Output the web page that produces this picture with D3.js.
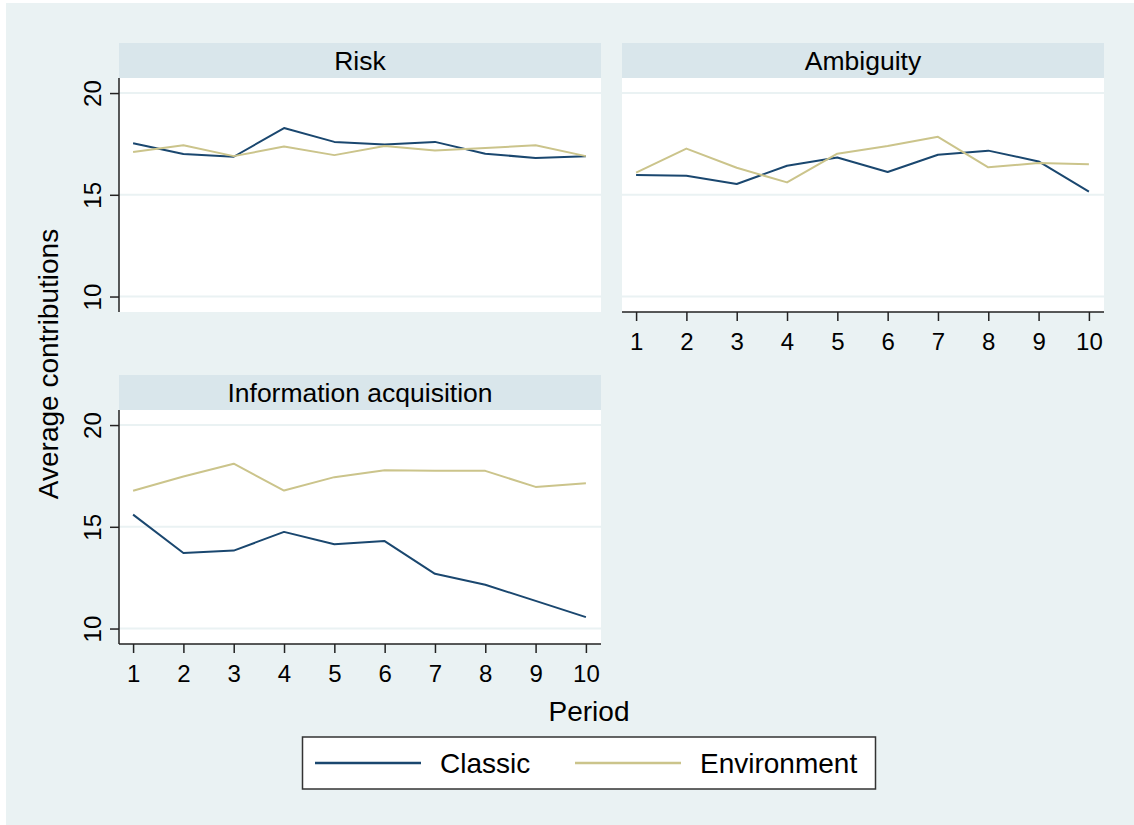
<!DOCTYPE html>
<html>
<head>
<meta charset="utf-8">
<script src="https://cdn.jsdelivr.net/npm/d3@7"></script>
<style>
html,body{margin:0;padding:0;background:#fff;}
svg{display:block;font-family:"Liberation Sans",Arial,sans-serif;}
</style>
</head>
<body>
<svg id="chart" width="1134" height="825"></svg>
<script>
// ---- data ----
const periods = [1,2,3,4,5,6,7,8,9,10];
const xTicks = [1,2,3,4,5,6,7,8,9,10];
const yTicks = [10,15,20];
const panelTitles = ["Risk","Ambiguity","Information acquisition"];
const seriesNames = ["Classic","Environment"];
const riskClassic = [17.53,17.0,16.87,18.28,17.6,17.47,17.6,17.02,16.81,16.9];
const riskEnv     = [17.1,17.43,16.9,17.37,16.95,17.4,17.18,17.3,17.43,16.9];
const ambClassic  = [15.97,15.94,15.53,16.43,16.83,16.12,16.97,17.17,16.64,15.16];
const ambEnv      = [16.09,17.27,16.33,15.61,17.02,17.4,17.85,16.35,16.56,16.5];
const infoClassic = [15.6,13.71,13.83,14.75,14.14,14.3,12.69,12.15,11.36,10.56];
const infoEnv     = [16.77,17.47,18.1,16.78,17.44,17.78,17.75,17.75,16.96,17.14];
const yAxisTitle = "Average contributions";
const xAxisTitle = "Period";

const colors = ["#1a476f","#cbc48b"];
const BG = "#eaf2f3", STRIP = "#d9e6eb", GRID = "#eaf2f3";

const svg = d3.select("#chart");
svg.append("rect").attr("x",6).attr("y",3).attr("width",1128).attr("height",822).attr("fill",BG);

const panels = [
  {title:panelTitles[0], data:[riskClassic,riskEnv], x0:119, x1:601, top:43, yAxis:true,  xAxis:false},
  {title:panelTitles[1], data:[ambClassic,ambEnv],   x0:622, x1:1104, top:43, yAxis:false, xAxis:true},
  {title:panelTitles[2], data:[infoClassic,infoEnv], x0:119, x1:601, top:375, yAxis:true, xAxis:true}
];
const stripH = 35, plotH = 234;

panels.forEach(p => {
  const g = svg.append("g");
  const pTop = p.top + stripH, pBot = pTop + plotH;
  g.append("rect").attr("x",p.x0).attr("y",p.top).attr("width",p.x1-p.x0).attr("height",stripH).attr("fill",STRIP);
  g.append("text").attr("x",(p.x0+p.x1)/2).attr("y",p.top+stripH/2+9)
    .attr("text-anchor","middle").attr("font-size",26.5).attr("fill","#000").text(p.title);
  g.append("rect").attr("x",p.x0).attr("y",pTop).attr("width",p.x1-p.x0).attr("height",plotH).attr("fill","#fff");
  const x = d3.scaleLinear().domain([0.72,10.3]).range([p.x0,p.x1]);
  const y = d3.scaleLinear().domain([9.24,20.74]).range([pBot,pTop]);
  g.selectAll(".grid").data(yTicks).enter().append("line")
    .attr("x1",p.x0).attr("x2",p.x1).attr("y1",d=>y(d)).attr("y2",d=>y(d))
    .attr("stroke",GRID).attr("stroke-width",2);
  p.data.forEach((vals,i)=>{
    const line = d3.line().x((d,j)=>x(periods[j])).y(d=>y(d));
    g.append("path").datum(vals).attr("d",line).attr("fill","none")
      .attr("stroke",colors[i]).attr("stroke-width",2).attr("stroke-linejoin","round");
  });
  if (p.yAxis) {
    const ya = g.append("g").attr("transform",`translate(${p.x0},0)`)
      .call(d3.axisLeft(y).tickValues(yTicks).tickSize(9).tickFormat(d3.format("d")));
    ya.select(".domain").attr("d",`M0,${pTop}V${pBot}`).attr("stroke","#222").attr("stroke-width",1.5);
    ya.selectAll(".tick line").attr("stroke","#222").attr("stroke-width",1.5);
    ya.selectAll(".tick text").attr("font-size",24).attr("fill","#000")
      .attr("font-family","Liberation Sans, Arial, sans-serif")
      .attr("x",0).attr("dy",0).attr("y",0)
      .attr("transform","translate(-18,0) rotate(-90)")
      .attr("text-anchor","middle");
  }
  if (p.xAxis) {
    const xa = g.append("g").attr("transform",`translate(0,${pBot})`)
      .call(d3.axisBottom(x).tickValues(xTicks).tickSize(9).tickFormat(d3.format("d")));
    xa.select(".domain").attr("d",`M${p.x0},0H${p.x1}`).attr("stroke","#222").attr("stroke-width",1.5);
    xa.selectAll(".tick line").attr("stroke","#222").attr("stroke-width",1.5);
    xa.selectAll(".tick text").attr("font-size",24).attr("fill","#000")
      .attr("font-family","Liberation Sans, Arial, sans-serif")
      .attr("y",38).attr("dy",0);
  }
});

svg.append("text").attr("transform","translate(58,364) rotate(-90)")
  .attr("text-anchor","middle").attr("font-size",28).attr("fill","#000").text(yAxisTitle);
svg.append("text").attr("x",589).attr("y",721)
  .attr("text-anchor","middle").attr("font-size",28).attr("fill","#000").text(xAxisTitle);

const lg = svg.append("g");
lg.append("rect").attr("x",302.5).attr("y",737).attr("width",573).attr("height",52)
  .attr("fill","#fff").attr("stroke","#333").attr("stroke-width",1.5);
const legendItems = [
  {name:seriesNames[0], color:colors[0], lx:315, tx:440},
  {name:seriesNames[1], color:colors[1], lx:575, tx:700}
];
legendItems.forEach(it=>{
  lg.append("line").attr("x1",it.lx).attr("x2",it.lx+106).attr("y1",763).attr("y2",763)
    .attr("stroke",it.color).attr("stroke-width",2.5);
  lg.append("text").attr("x",it.tx).attr("y",773).attr("font-size",28).attr("fill","#000").text(it.name);
});
</script>
</body>
</html>
